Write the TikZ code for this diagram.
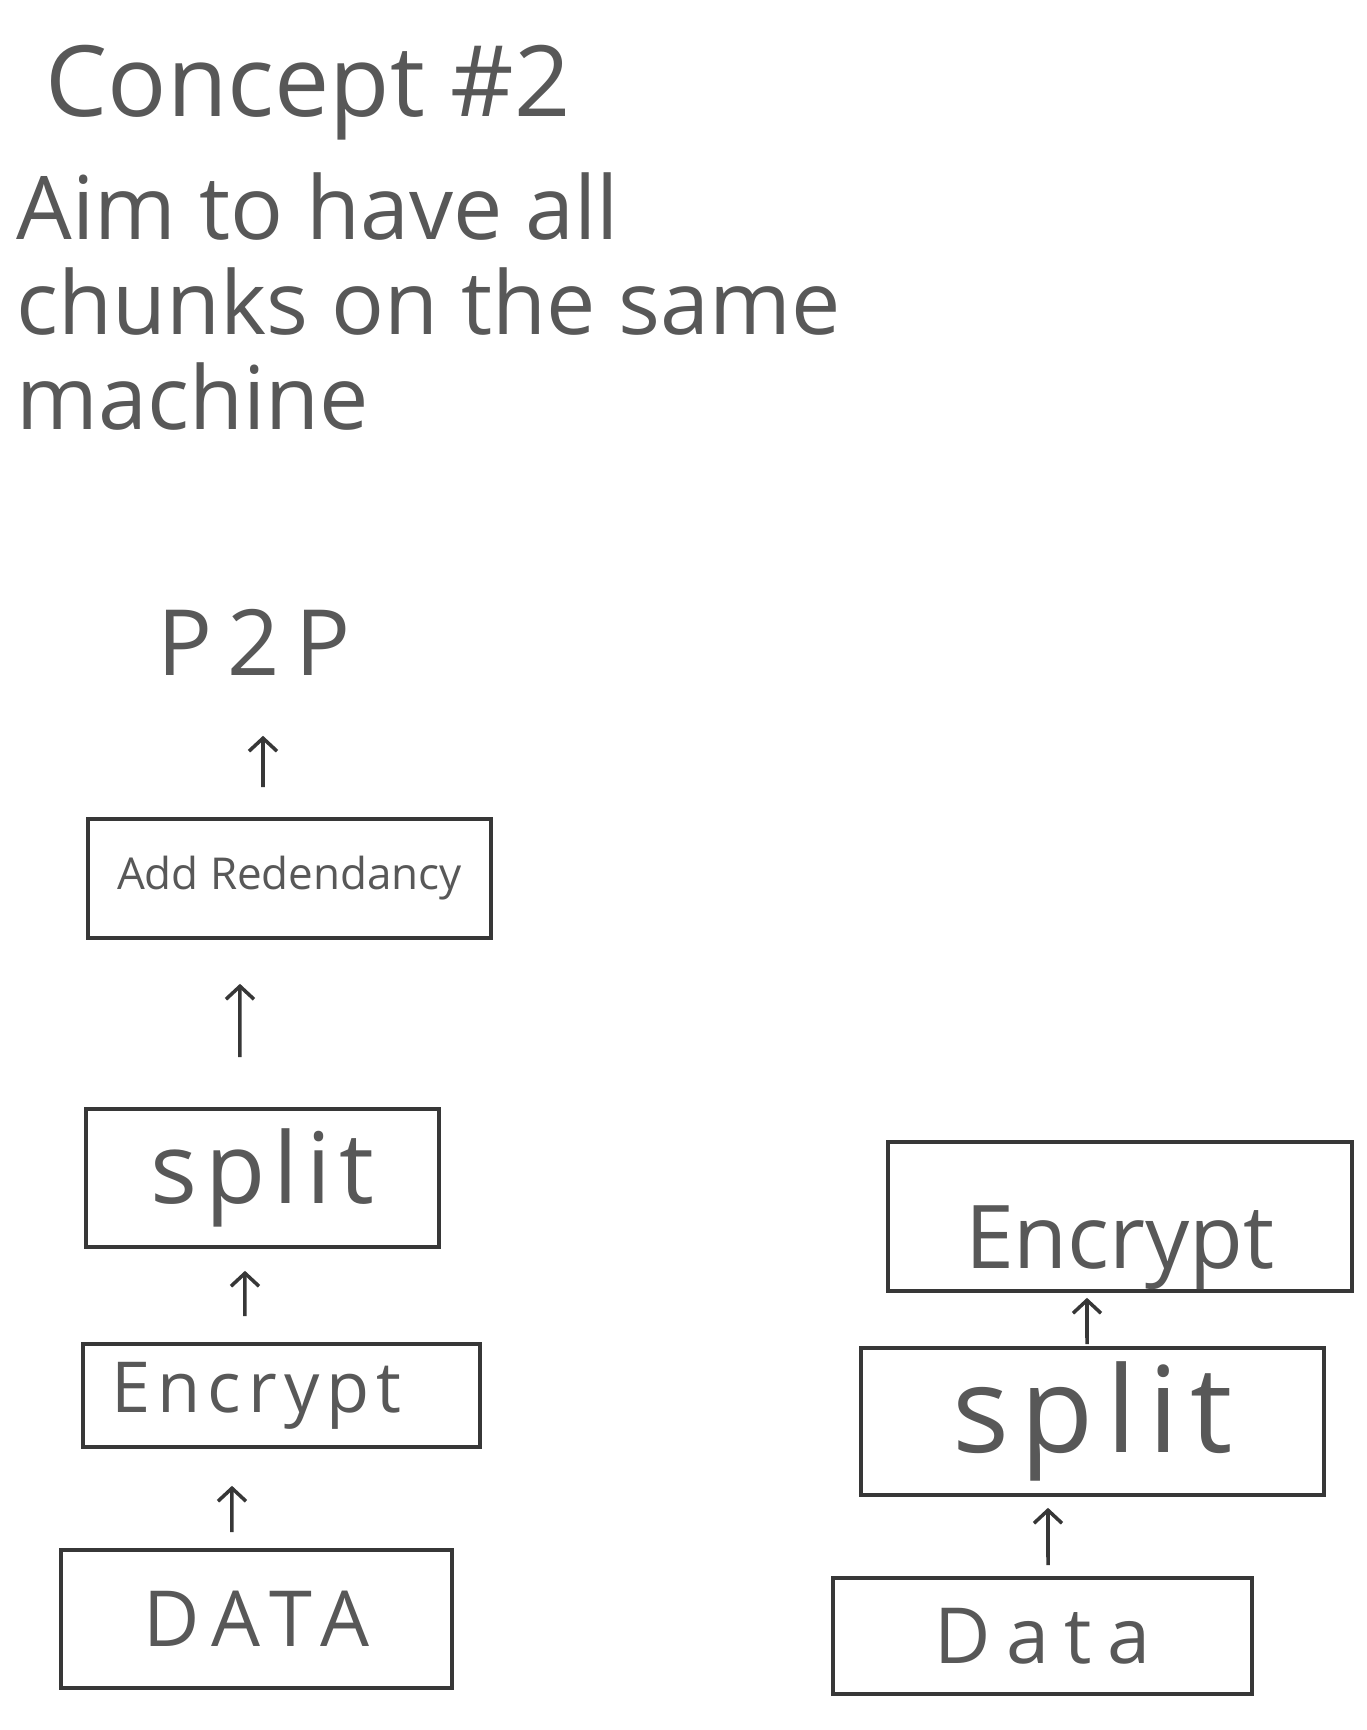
\documentclass[tikz,border=0pt]{standalone}
\usepackage{fontspec}
\setmainfont{Open Sans}
\usepackage{xcolor}
\usetikzlibrary{arrows.meta}

\definecolor{pencil}{RGB}{88,88,88}
\definecolor{pen}{RGB}{55,55,55}
% size and letter spacing of the handwriting
\newcommand{\hand}[2]{\fontsize{#1}{\dimexpr #1*108/100\relax}\selectfont\addfontfeature{LetterSpace=#2}}

\begin{document}
\begin{tikzpicture}[x=0.01cm, y=-0.01cm, line width=1pt,
    note/.style={text=pencil, inner sep=0pt},
    box/.style={draw=pen, rectangle, text=pencil, inner sep=0pt},
    flow/.style={draw=pen, -{Straight Barb[length=1.3mm, width=2.8mm]}}]
    \useasboundingbox[fill=white] (0,0) rectangle (1367,1730);

    % heading
    \node[note, anchor=base west, font=\hand{28pt}{0}] (title) at (44,116) {Concept \#2};
    \node[note, anchor=north west, align=left, font=\hand{25pt}{0}] (aim) at (15,171) {Aim to have all\\chunks on the same\\machine};

    % left stack
    \node[note, anchor=base, font=\hand{26pt}{17}] (p2p) at (254,675) {P2P};
    \node[box, minimum width=4.03cm, minimum height=1.19cm, font=\hand{12.5pt}{0}] (redundancy) at (289.5,878.5) {Add Redendancy};
    \node[box, minimum width=3.53cm, minimum height=1.38cm, font=\hand{28pt}{8}] (splitL) at (262.5,1178) {split};
    \node[box, minimum width=3.97cm, minimum height=1.03cm, font=\hand{20pt}{10}] (encryptL) at (281.5,1395.5) {Encrypt\hspace*{0.5cm}};
    \node[box, minimum width=3.91cm, minimum height=1.38cm, font=\hand{22pt}{18}] (dataL) at (256.5,1619) {DATA};

    \draw[flow, shorten <=0.3cm, shorten >=0.59cm] ([xshift=-0.265cm]redundancy.north) -- ([xshift=0.09cm]p2p.south);
    \draw[flow, shorten <=0.5cm, shorten >=0.44cm] ([xshift=-0.225cm]splitL.north) -- ([xshift=-0.495cm]redundancy.south);
    \draw[flow, shorten <=0.26cm, shorten >=0.22cm] ([xshift=-0.365cm]encryptL.north) -- ([xshift=-0.175cm]splitL.south);
    \draw[flow, shorten <=0.16cm, shorten >=0.37cm] ([xshift=-0.245cm]dataL.north) -- ([xshift=-0.495cm]encryptL.south);

    % right stack
    \node[box, minimum width=4.64cm, minimum height=1.49cm, text height=1.2cm, text depth=0.16cm, font=\hand{25pt}{0}] (encryptR) at (1120,1216.5) {Encrypt};
    \node[box, minimum width=4.63cm, minimum height=1.47cm, font=\hand{34pt}{10}] (splitR) at (1092.5,1421.5) {split};
    \node[box, minimum width=4.19cm, minimum height=1.16cm, font=\hand{22pt}{20}] (dataR) at (1042.5,1636) {Data};

    \draw[flow, shorten <=0.11cm, shorten >=0.11cm] ([xshift=0.055cm]dataR.north) -- ([xshift=-0.445cm]splitR.south);
    \draw[flow, shorten <=0.02cm, shorten >=0.05cm] ([xshift=-0.055cm]splitR.north) -- ([xshift=-0.33cm]encryptR.south);
\end{tikzpicture}
\end{document}
